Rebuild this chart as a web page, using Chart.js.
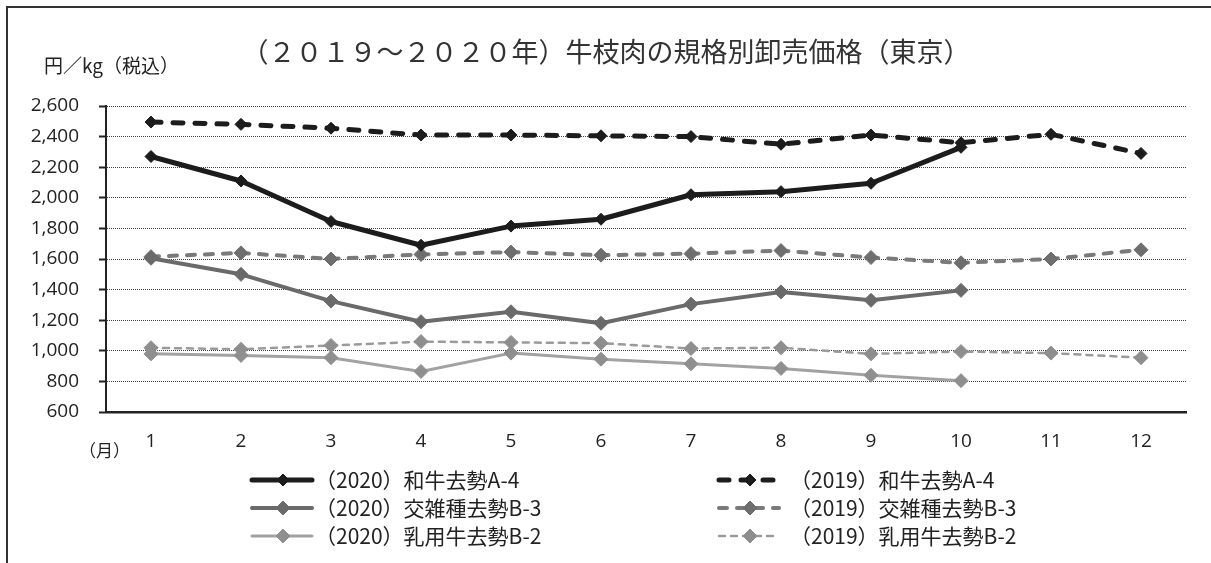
<!DOCTYPE html>
<html lang="ja">
<head>
<meta charset="utf-8">
<title>牛枝肉の規格別卸売価格（東京）</title>
<script src="https://cdn.jsdelivr.net/npm/chart.js@4/dist/chart.umd.min.js"></script>
<style>
  body{margin:0;background:#fff;}
  #wrap{width:1211px;height:563px;}
</style>
</head>
<body>
<div id="wrap"><canvas id="priceChart" width="1211" height="563"></canvas></div>
<script>
/* DATA (円/kg, 税込) */
const months = ["1","2","3","4","5","6","7","8","9","10","11","12"];
const yTicks = [600, 2600, 200]; // min, max, step

const wagyu2020  = [2270, 2110, 1845, 1690, 1815, 1860, 2020, 2040, 2095, 2330];
const kosshu2020 = [1605, 1500, 1325, 1190, 1255, 1180, 1305, 1385, 1330, 1395];
const nyuyo2020  = [980, 970, 955, 865, 985, 945, 915, 885, 840, 805];

const wagyu2019  = [2495, 2480, 2455, 2410, 2410, 2405, 2400, 2350, 2410, 2360, 2415, 2290];
const kosshu2019 = [1615, 1640, 1600, 1630, 1645, 1625, 1635, 1655, 1610, 1575, 1600, 1660];
const nyuyo2019  = [1020, 1010, 1035, 1060, 1055, 1050, 1015, 1020, 980, 995, 985, 955];

const seriesNames = [
  "（2020）和牛去勢A-4", "（2020）交雑種去勢B-3", "（2020）乳用牛去勢B-2",
  "（2019）和牛去勢A-4", "（2019）交雑種去勢B-3", "（2019）乳用牛去勢B-2"
];

const jpFont = "'Noto Sans CJK JP', sans-serif";
const numFont = "'Open Sans', 'Noto Sans CJK JP', sans-serif";

function series(label, data, line, mark, width, dash, radius){
  return {
    label, data,
    borderColor: line,
    backgroundColor: mark,
    pointBackgroundColor: mark,
    pointBorderColor: mark,
    pointBorderWidth: 1,
    pointStyle: "rectRot",
    pointRadius: radius,
    borderWidth: width,
    borderDash: dash,
    borderCapStyle: dash.length ? "round" : "butt",
    borderJoinStyle: "round",
    tension: 0,
    fill: false
  };
}

const datasets = [
  series(seriesNames[0], wagyu2020,  "#1c1c1c", "#1c1c1c", 5,   [],      6),
  series(seriesNames[1], kosshu2020, "#6a6a6a", "#6a6a6a", 4,   [],      7),
  series(seriesNames[2], nyuyo2020,  "#a2a2a2", "#8f8f8f", 3,   [],      7),
  series(seriesNames[3], wagyu2019,  "#1c1c1c", "#1c1c1c", 5,   [10,12], 6),
  series(seriesNames[4], kosshu2019, "#7a7a7a", "#6e6e6e", 4,   [8,10],  7),
  series(seriesNames[5], nyuyo2019,  "#9a9a9a", "#8e8e8e", 2.5, [6,6],   7)
];

/* FRAME, TITLES AND TWO-COLUMN LEGEND */
const decorations = {
  id: "decorations",
  afterDraw(chart){
    const ctx = chart.ctx;
    ctx.save();

    // outer frame (top and left edges)
    ctx.strokeStyle = "#333";
    ctx.lineWidth = 2;
    ctx.beginPath();
    ctx.moveTo(1211, 7);
    ctx.lineTo(7, 7);
    ctx.lineTo(7, 563);
    ctx.stroke();

    ctx.fillStyle = "#333";
    ctx.textBaseline = "middle";
    ctx.textAlign = "center";
    ctx.font = "27px " + jpFont;
    ctx.fillText("（２０１９～２０２０年）牛枝肉の規格別卸売価格（東京）", 606, 52);

    ctx.fillStyle = "#222";
    ctx.textAlign = "left";
    ctx.font = "19px " + jpFont;
    ctx.fillText("円／kg（税込）", 44, 66);
    ctx.font = "17px " + jpFont;
    ctx.fillText("（月）", 79, 451);

    // legend: 2020 on the left, 2019 on the right
    const colX = [250, 717];
    const textX = [315, 790];
    const rowY = [480, 508, 536];
    chart.data.datasets.forEach((ds, i) => {
      const col = Math.floor(i / 3);
      const x = colX[col];
      const y = rowY[i % 3];
      const r = ds.pointRadius;
      ctx.save();
      ctx.strokeStyle = ds.borderColor;
      ctx.lineWidth = ds.borderWidth;
      ctx.lineCap = "round";
      ctx.setLineDash(ds.borderDash);
      ctx.beginPath();
      ctx.moveTo(x + 2, y);
      ctx.lineTo(x + 62, y);
      ctx.stroke();
      ctx.restore();

      ctx.fillStyle = ds.pointBackgroundColor;
      ctx.strokeStyle = ds.pointBorderColor;
      ctx.lineWidth = 1;
      ctx.beginPath();
      ctx.moveTo(x + 33 - r, y);
      ctx.lineTo(x + 33, y - r);
      ctx.lineTo(x + 33 + r, y);
      ctx.lineTo(x + 33, y + r);
      ctx.closePath();
      ctx.fill();
      ctx.stroke();

      ctx.fillStyle = "#222";
      ctx.font = "21px " + jpFont;
      ctx.textAlign = "left";
      ctx.fillText(ds.label, textX[col], y);
    });
    ctx.restore();
  }
};

/* CHART */
new Chart(document.getElementById("priceChart"), {
  type: "line",
  data: { labels: months, datasets },
  options: {
    responsive: false,
    devicePixelRatio: 1,
    animation: false,
    locale: "en-US",
    layout: { padding: { top: 106, right: 25, bottom: 111, left: 0 } },
    plugins: {
      legend: { display: false },
      title: { display: false },
      tooltip: { enabled: false }
    },
    scales: {
      x: {
        offset: true,
        grid: { display: false, drawTicks: false },
        border: { display: true, color: "#222", width: 2.5 },
        ticks: { color: "#222", padding: 18, font: { family: numFont, size: 19 } },
        afterFit(scale){ scale.height = 40; }
      },
      y: {
        min: yTicks[0],
        max: yTicks[1],
        ticks: {
          stepSize: yTicks[2],
          color: "#222",
          padding: 20,
          font: { family: numFont, size: 19 }
        },
        grid: {
          color: "#444",
          lineWidth: 1,
          tickLength: 7,
          tickColor: "#222",
          tickWidth: 2,
          tickBorderDash: []
        },
        border: { display: true, color: "#222", width: 2, dash: [1, 1] },
        afterFit(scale){ scale.width = 106; }
      }
    }
  },
  plugins: [decorations]
});
</script>
</body>
</html>
